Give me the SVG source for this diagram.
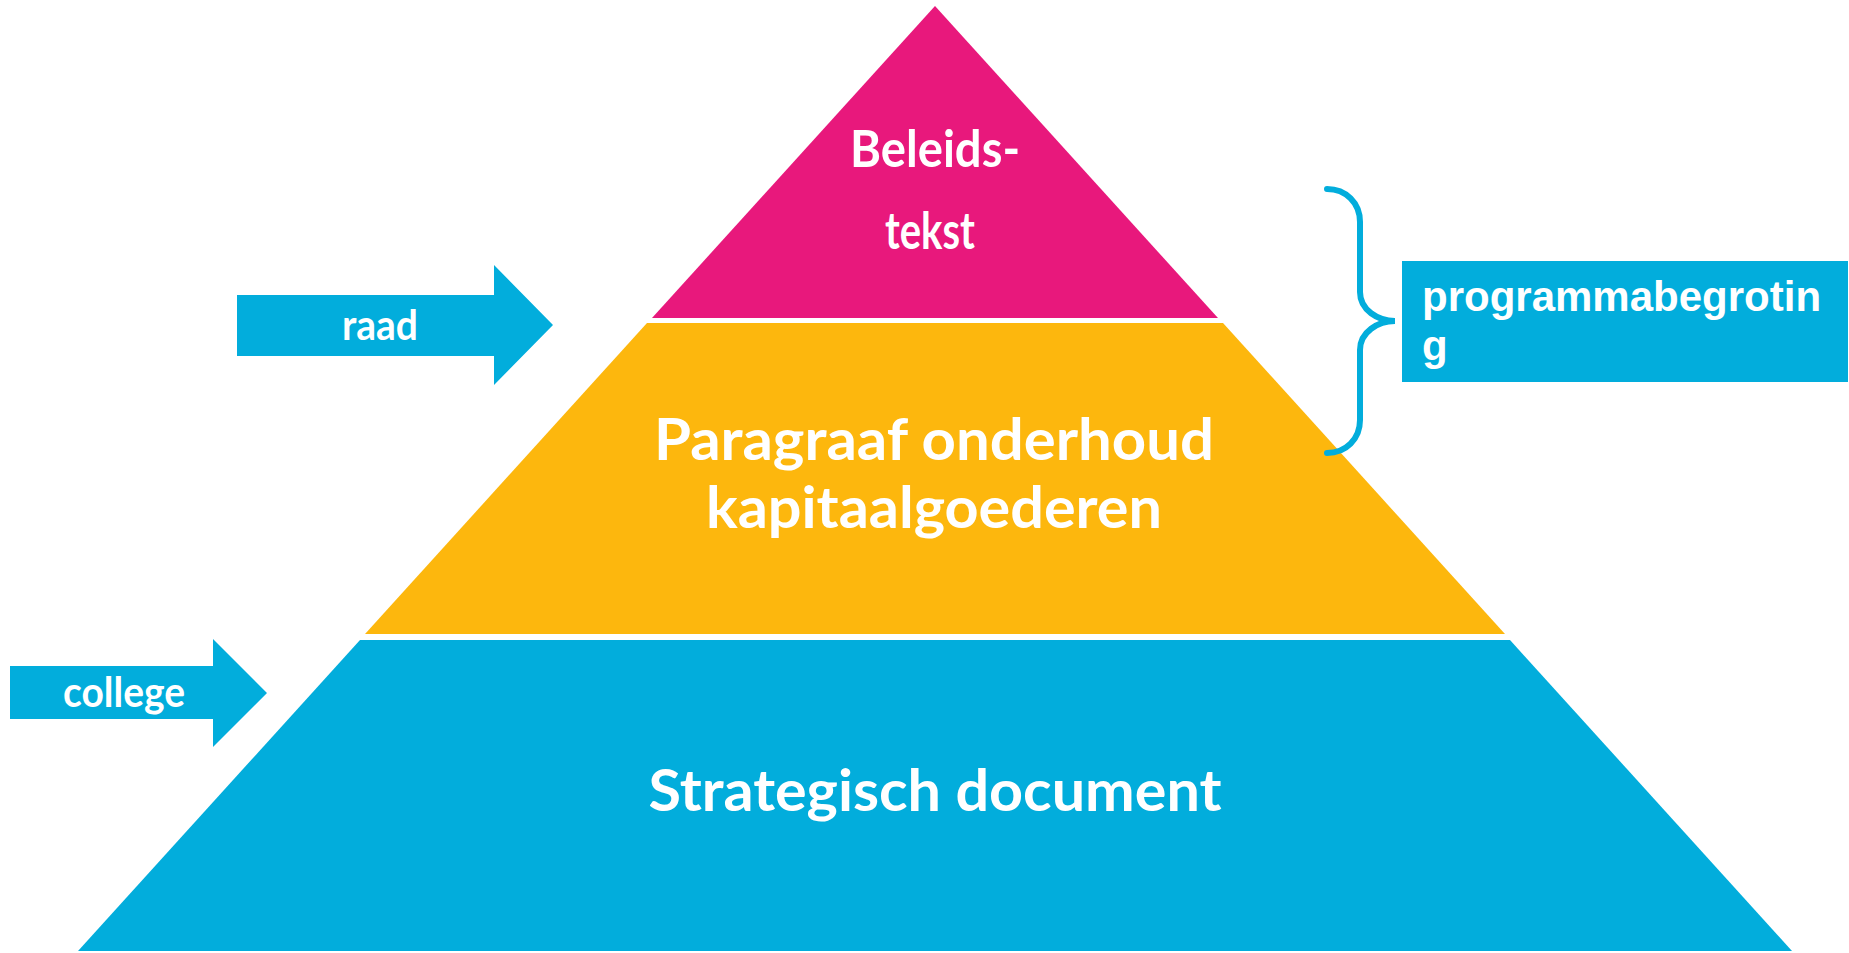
<svg xmlns="http://www.w3.org/2000/svg" width="1849" height="953" viewBox="0 0 1849 953">
<style>
.t{font-family:Lato,"Liberation Sans",sans-serif;font-weight:bold;fill:#fff;text-anchor:middle}
.a{font-family:"Liberation Sans",Arial,sans-serif;font-weight:bold;fill:#fff}
.blue{fill:#02ADDC}
</style>
<rect width="1849" height="953" fill="#fff"/>
<g id="tier-top">
<polygon points="935,6 1218,318 652,318" fill="#E8187C"/>
<text class="t" x="935" y="167" font-size="52" textLength="170" lengthAdjust="spacingAndGlyphs">Beleids-</text>
<text class="t" x="930" y="249" font-size="52" textLength="90" lengthAdjust="spacingAndGlyphs">tekst</text>
</g>
<g id="tier-middle">
<polygon points="647,323 1223,323 1505,634 365,634" fill="#FDB70D"/>
<text class="t" x="934" y="460" font-size="58" textLength="560" lengthAdjust="spacingAndGlyphs">Paragraaf onderhoud</text>
<text class="t" x="934" y="528" font-size="58" textLength="456" lengthAdjust="spacingAndGlyphs">kapitaalgoederen</text>
</g>
<g id="tier-bottom">
<polygon points="360,640 1510,640 1792,951 78,951" class="blue"/>
<text class="t" x="935" y="811" font-size="58" textLength="573" lengthAdjust="spacingAndGlyphs">Strategisch document</text>
</g>
<g id="arrow-raad">
<polygon points="237,295 494,295 494,265 553,325 494,385 494,356 237,356" class="blue"/>
<text class="t" x="380" y="340" font-size="42" textLength="76" lengthAdjust="spacingAndGlyphs">raad</text>
</g>
<g id="arrow-college">
<polygon points="10,666 213,666 213,639 267,693 213,747 213,719 10,719" class="blue"/>
<text class="t" x="124" y="707" font-size="42" textLength="122" lengthAdjust="spacingAndGlyphs">college</text>
</g>
<g id="connectors">
<path d="M1327,189 C1346,189 1360,203 1360,222 L1360,292 C1360,310 1378,321 1395,321 C1378,321 1360,332 1360,350 L1360,420 C1360,439 1346,453 1327,453" fill="none" stroke="#02ADDC" stroke-width="6" stroke-linecap="round"/>
</g>
<g id="box-programmabegroting">
<rect x="1402" y="261" width="446" height="121" class="blue"/>
<text class="a" x="1422" y="311" font-size="42">programmabegrotin</text>
<text class="a" x="1422" y="360" font-size="42">g</text>
</g>
</svg>
